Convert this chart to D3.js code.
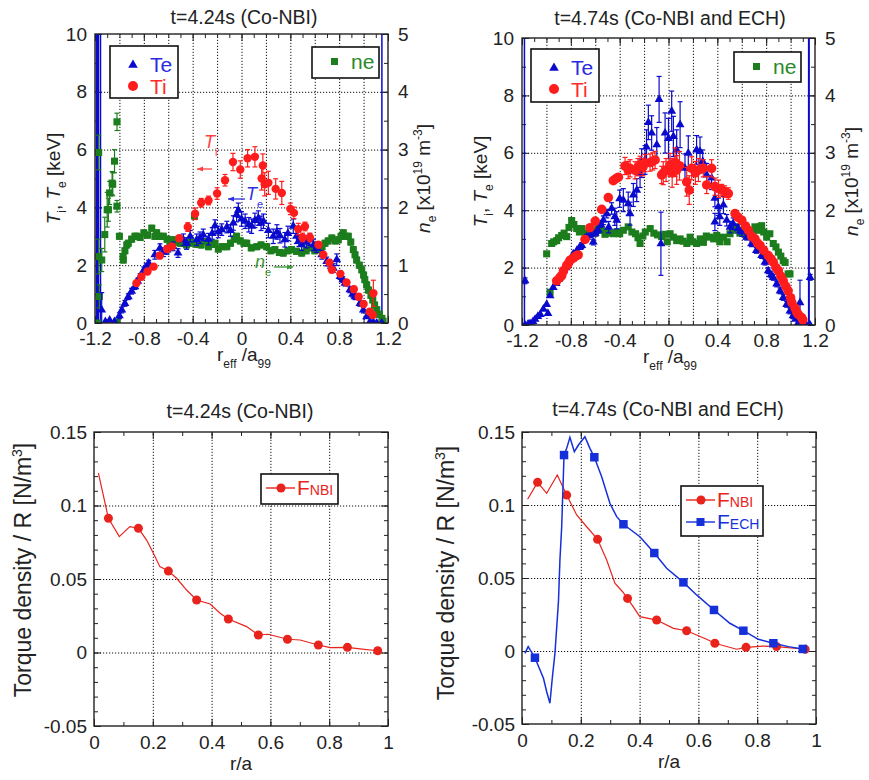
<!DOCTYPE html>
<html>
<head>
<meta charset="utf-8">
<script src="https://cdn.jsdelivr.net/npm/d3@7"></script>
<style>
  body { margin: 0; background: #fff; }
  svg { font-family: "Liberation Sans", Arial, sans-serif; }
  .axis path { display: none; }
  .axis line { stroke: #222; stroke-width: 1; }
  .axis text { font-size: 19px; fill: #222; font-family: "Liberation Sans", Arial, sans-serif; }
  .grid path { display: none; }
  .grid line { stroke: #111; stroke-width: 1; stroke-dasharray: 1.2, 1.8; }
</style>
</head>
<body>
<svg id="chart" width="869" height="780"></svg>
<script>
// ---- tick values
var profXTicks = [-1.2, -0.8, -0.4, 0, 0.4, 0.8, 1.2];
var tempTicks = [0, 2, 4, 6, 8, 10];
var neTicks = [0, 1, 2, 3, 4, 5];
var torqXTicks = [0, 0.2, 0.4, 0.6, 0.8, 1];
var torqYTicks = [-0.05, 0, 0.05, 0.1, 0.15];

// ---- t=4.24s profiles  [r_eff/a99, value, error]
var tlTe = [[-1.145,0.45,0.6],[-1.115,0.05,0.05],[-1.08,0.1,0.05],[-1.04,0.05,0.05],[-1.0,0.25,0.1],[-0.98,0.45,0.1],
  [-0.955,0.68,0.1],[-0.927,0.91,0.1],[-0.9,1.1,0.1],[-0.873,1.26,0.1],[-0.85,1.45,0.1],[-0.83,1.61,0.1],[-0.8,1.84,0.1],
  [-0.78,1.95,0.1],[-0.76,2.07,0.1],[-0.71,2.36,0.15],[-0.668,2.59,0.15],[-0.64,2.45,0.15],[-0.61,2.53,0.15],[-0.56,2.65,0.15],
  [-0.52,2.42,0.15],[-0.476,2.88,0.2],[-0.45,2.75,0.2],[-0.42,3.0,0.2],[-0.367,2.88,0.2],[-0.34,2.95,0.2],[-0.313,3.05,0.2],
  [-0.27,2.9,0.2],[-0.24,3.1,0.2],[-0.217,3.37,0.2],[-0.19,3.15,0.2],[-0.162,3.23,0.2],[-0.12,3.32,0.2],[-0.09,3.2,0.2],
  [-0.067,3.46,0.25],[-0.04,3.75,0.25],[-0.026,3.9,0.25],[0.0,3.6,0.25],[0.03,3.52,0.25],[0.06,3.4,0.25],[0.083,3.35,0.25],
  [0.11,3.55,0.25],[0.138,3.63,0.25],[0.16,3.45,0.25],[0.18,3.52,0.25],[0.22,3.2,0.25],[0.26,3.0,0.25],[0.29,3.15,0.25],
  [0.315,3.02,0.25],[0.355,2.88,0.25],[0.38,3.1,0.25],[0.424,3.35,0.25],[0.45,3.0,0.25],[0.47,2.85,0.2],[0.493,2.71,0.2],
  [0.53,2.8,0.2],[0.56,2.88,0.2],[0.59,2.7,0.2],[0.616,2.59,0.15],[0.657,2.36,0.15],[0.698,2.13,0.15],[0.72,2.05,0.15],
  [0.752,1.9,0.15],[0.78,2.19,0.2],[0.807,1.61,0.1],[0.83,1.5,0.1],[0.848,1.38,0.1],[0.888,1.15,0.1],[0.91,1.0,0.1],
  [0.93,0.91,0.1],[0.97,0.68,0.1],[0.998,0.45,0.1],[1.025,0.22,0.05],[1.053,0.05,0.05],[1.08,0.02,0.05],[1.108,0.0,0.05],[1.15,0.0,0.05]];
var tlTi = [[-0.86,1.38,0.1],[-0.82,1.6,0.1],[-0.77,1.78,0.1],[-0.72,1.95,0.1],[-0.67,2.33,0.1],[-0.61,2.56,0.1],[-0.57,2.65,0.1],
  [-0.51,2.93,0.1],[-0.44,3.32,0.15],[-0.38,3.78,0.2],[-0.33,4.16,0.15],[-0.27,4.24,0.15],[-0.2,4.48,0.2],[-0.135,4.94,0.2],
  [-0.07,5.57,0.3],[-0.01,5.31,0.3],[0.05,5.7,0.3],[0.11,5.75,0.35],[0.165,5.0,0.4],[0.175,5.45,0.4],[0.19,4.8,0.4],
  [0.22,4.85,0.4],[0.28,4.64,0.35],[0.33,4.5,0.4],[0.4,3.95,0.2],[0.43,3.81,0.2],[0.465,3.25,0.2],[0.5,2.96,0.15],
  [0.52,3.34,0.15],[0.56,2.96,0.15],[0.63,2.71,0.1],[0.67,2.36,0.1],[0.72,2.09,0.1],[0.74,1.84,0.1],[0.81,1.7,0.1],
  [0.86,1.4,0.1],[0.92,1.17,0.1],[0.96,0.91,0.1],[1.0,0.66,0.1],[1.05,0.39,0.1],[1.075,0.28,0.1],[1.08,1.03,0.45]];
var tlNe = [[-1.18,0.0,0.02],[-1.165,0.46,0.2],[-1.17,1.15,0.3],[-1.17,2.95,0.3],[-1.145,1.09,0.2],[-1.12,1.53,0.3],
  [-1.1,1.96,0.3],[-1.09,1.96,0.2],[-1.08,2.25,0.2],[-1.06,2.42,0.2],[-1.055,2.4,0.2],[-1.04,2.8,0.2],[-1.02,3.48,0.15],
  [-1.02,2.02,0.1],[-1.02,0.02,0.02],[-1.0,1.5,0.05],[-0.97,1.15,0.05],[-0.968,1.09,0.05],[-0.955,1.25,0.05],[-0.94,1.35,0.05],
  [-0.927,1.38,0.05],[-0.9,1.45,0.05],[-0.873,1.5,0.05],[-0.858,1.5,0.05],[-0.83,1.48,0.05],[-0.8,1.56,0.05],[-0.77,1.52,0.05],
  [-0.735,1.64,0.05],[-0.71,1.5,0.05],[-0.695,1.56,0.05],[-0.67,1.5,0.05],[-0.64,1.5,0.05],[-0.61,1.45,0.05],[-0.586,1.38,0.05],
  [-0.56,1.44,0.05],[-0.53,1.4,0.05],[-0.5,1.38,0.05],[-0.476,1.38,0.05],[-0.45,1.35,0.05],[-0.42,1.4,0.05],[-0.395,1.38,0.05],
  [-0.385,1.85,0.05],[-0.36,1.36,0.05],[-0.33,1.35,0.05],[-0.3,1.41,0.05],[-0.27,1.32,0.05],[-0.24,1.36,0.05],[-0.217,1.38,0.05],
  [-0.19,1.28,0.05],[-0.16,1.32,0.05],[-0.12,1.32,0.05],[-0.09,1.38,0.05],[-0.06,1.45,0.05],[-0.04,1.5,0.05],[-0.01,1.42,0.05],
  [0.02,1.38,0.05],[0.043,1.38,0.05],[0.08,1.3,0.05],[0.125,1.32,0.05],[0.16,1.35,0.05],[0.206,1.32,0.05],[0.24,1.25,0.05],
  [0.274,1.27,0.05],[0.31,1.22,0.05],[0.342,1.21,0.05],[0.38,1.25,0.05],[0.41,1.27,0.05],[0.45,1.24,0.05],[0.493,1.21,0.05],
  [0.53,1.25,0.05],[0.56,1.3,0.05],[0.6,1.25,0.05],[0.63,1.27,0.05],[0.66,1.32,0.05],[0.684,1.38,0.05],[0.71,1.42,0.05],
  [0.74,1.47,0.05],[0.77,1.42,0.05],[0.793,1.44,0.05],[0.815,1.5,0.05],[0.834,1.56,0.05],[0.855,1.5,0.05],[0.875,1.5,0.05],
  [0.895,1.4,0.05],[0.916,1.27,0.05],[0.93,1.18,0.05],[0.943,1.09,0.05],[0.965,1.0,0.05],[0.985,0.92,0.05],[1.0,0.83,0.05],
  [1.01,0.75,0.05],[1.025,0.66,0.05],[1.04,0.57,0.05],[1.06,0.48,0.05],[1.075,0.4,0.05],[1.09,0.31,0.05],[1.108,0.23,0.05],
  [1.13,0.15,0.05],[1.15,0.08,0.05],[1.16,0.03,0.05]];
// vertical Te traces running off the top of the frame  [r_eff/a99, line width]
var tlEdgeLines = [[-1.18, 3.5], [-1.155, 1.5], [1.15, 1.5]];

// ---- t=4.74s profiles
var trTe = [[-1.175,1.54,0.1],[-1.175,0.0,0.05],[-1.15,0.03,0.05],[-1.134,0.05,0.05],[-1.11,0.12,0.05],[-1.093,0.2,0.05],
  [-1.07,0.3,0.05],[-1.05,0.37,0.05],[-1.025,0.55,0.05],[-0.987,0.4,0.05],[-0.998,0.72,0.05],[-0.97,1.02,0.05],[-0.944,1.31,0.05],
  [-0.92,1.45,0.05],[-0.9,1.6,0.05],[-0.88,1.75,0.05],[-0.86,1.89,0.05],[-0.84,2.0,0.05],[-0.82,2.19,0.05],[-0.8,2.3,0.05],
  [-0.78,2.48,0.05],[-0.75,2.6,0.05],[-0.73,2.7,0.05],[-0.71,2.77,0.1],[-0.67,3.06,0.1],[-0.64,3.15,0.1],[-0.616,2.89,0.1],
  [-0.6,3.2,0.1],[-0.575,3.3,0.1],[-0.555,3.5,0.1],[-0.534,3.65,0.15],[-0.506,3.88,0.15],[-0.49,3.41,0.2],[-0.466,4.06,0.2],
  [-0.44,3.77,0.3],[-0.424,3.65,0.3],[-0.4,4.4,0.3],[-0.37,4.35,0.4],[-0.33,4.23,0.4],[-0.315,3.88,0.4],[-0.288,4.53,0.4],
  [-0.26,4.7,0.4],[-0.233,5.29,0.5],[-0.22,5.64,0.5],[-0.192,5.75,0.5],[-0.18,6.2,0.6],[-0.165,7.06,0.6],[-0.138,6.69,0.6],
  [-0.096,6.28,0.6],[-0.077,7.86,0.8],[-0.062,2.83,1.1],[-0.028,6.69,0.7],[0.0,6.5,0.7],[0.026,7.45,0.7],[0.04,6.57,0.7],
  [0.067,6.1,0.7],[0.095,6.98,0.8],[0.135,5.46,0.5],[0.162,5.99,0.6],[0.23,6.1,0.5],[0.258,6.05,0.5],[0.28,5.7,0.4],
  [0.313,5.23,0.4],[0.353,5.12,0.4],[0.38,4.42,0.3],[0.38,3.59,0.3],[0.408,4.12,0.3],[0.42,3.77,0.3],[0.45,4.18,0.3],
  [0.477,3.65,0.2],[0.504,3.41,0.2],[0.53,3.53,0.2],[0.57,3.36,0.15],[0.6,3.24,0.15],[0.64,3.06,0.1],[0.68,2.83,0.1],
  [0.72,2.6,0.1],[0.763,2.42,0.1],[0.79,2.19,0.1],[0.817,1.89,0.1],[0.84,1.75,0.1],[0.858,1.66,0.1],[0.886,1.43,0.1],
  [0.914,1.19,0.1],[0.94,0.96,0.1],[0.968,0.72,0.1],[0.995,0.49,0.1],[1.02,0.32,0.1],[1.04,0.2,0.05],[1.063,0.08,0.05],
  [1.077,0.78,0.78],[1.1,0.0,0.05],[1.13,0.0,0.05],[1.16,0.0,0.05],[1.16,1.66,0.1]];
var trTi = [[-0.916,1.54,0.05],[-0.89,1.65,0.05],[-0.875,1.72,0.05],[-0.86,1.89,0.05],[-0.834,2.07,0.05],[-0.82,2.15,0.05],
  [-0.807,2.25,0.05],[-0.78,2.33,0.05],[-0.76,2.4,0.05],[-0.74,2.44,0.05],[-0.684,2.98,0.05],[-0.643,3.39,0.05],[-0.6,3.62,0.05],
  [-0.547,4.03,0.05],[-0.493,4.44,0.1],[-0.452,5.03,0.1],[-0.43,5.1,0.1],[-0.41,5.15,0.1],[-0.356,5.54,0.3],[-0.33,5.4,0.3],
  [-0.315,5.46,0.3],[-0.274,5.39,0.3],[-0.25,5.5,0.3],[-0.233,5.58,0.3],[-0.21,5.5,0.3],[-0.192,5.64,0.3],[-0.151,5.66,0.3],
  [-0.13,5.7,0.3],[-0.11,5.75,0.3],[-0.056,5.23,0.3],[-0.043,5.29,0.4],[-0.02,5.4,0.4],[0.013,5.58,0.4],[0.03,5.3,0.5],
  [0.053,5.67,0.5],[0.067,5.4,0.5],[0.09,5.55,0.5],[0.149,4.99,0.5],[0.17,4.7,0.5],[0.19,5.46,0.4],[0.22,5.3,0.4],
  [0.245,5.4,0.4],[0.285,5.46,0.3],[0.313,4.88,0.3],[0.353,5.46,0.3],[0.38,4.82,0.3],[0.41,4.75,0.3],[0.436,4.7,0.2],
  [0.46,4.65,0.2],[0.49,4.58,0.2],[0.545,3.88,0.1],[0.57,3.75,0.1],[0.6,3.65,0.1],[0.63,3.45,0.1],[0.654,3.3,0.1],
  [0.68,3.1,0.1],[0.708,3.0,0.1],[0.73,2.85,0.1],[0.75,2.77,0.1],[0.78,2.6,0.1],[0.817,2.42,0.1],[0.84,2.3,0.1],
  [0.858,2.19,0.1],[0.88,2.0,0.1],[0.9,1.89,0.1],[0.92,1.7,0.1],[0.94,1.54,0.1],[0.96,1.35,0.1],[0.98,1.19,0.1],
  [1.0,0.95,0.1],[1.01,0.78,0.1],[1.036,0.59,0.1],[1.05,0.45,0.1],[1.063,0.37,0.1],[1.09,0.26,0.1],[1.1,0.18,0.1]];
var trNe = [[-0.998,1.24,0.03],[-0.97,0.57,0.03],[-0.957,1.42,0.03],[-0.94,1.45,0.03],[-0.916,1.47,0.03],[-0.9,1.52,0.03],
  [-0.875,1.56,0.03],[-0.855,1.6,0.03],[-0.834,1.54,0.03],[-0.815,1.7,0.03],[-0.793,1.82,0.03],[-0.775,1.75,0.03],
  [-0.752,1.68,0.03],[-0.73,1.62,0.03],[-0.71,1.68,0.03],[-0.68,1.6,0.03],[-0.657,1.59,0.03],[-0.63,1.65,0.03],[-0.6,1.6,0.03],
  [-0.575,1.7,0.03],[-0.547,1.65,0.03],[-0.52,1.58,0.03],[-0.5,1.62,0.03],[-0.475,1.6,0.03],[-0.45,1.59,0.03],[-0.425,1.62,0.03],
  [-0.4,1.59,0.03],[-0.37,1.65,0.03],[-0.33,1.71,0.03],[-0.3,1.62,0.03],[-0.27,1.59,0.03],[-0.25,1.52,0.03],[-0.233,1.42,0.03],
  [-0.21,1.55,0.03],[-0.19,1.62,0.03],[-0.15,1.68,0.03],[-0.12,1.6,0.03],[-0.09,1.57,0.03],[-0.056,1.54,0.03],[-0.03,1.58,0.03],
  [-0.01,1.45,0.03],[0.013,1.59,0.03],[0.04,1.53,0.03],[0.067,1.47,0.03],[0.095,1.5,0.03],[0.12,1.46,0.03],[0.15,1.42,0.03],
  [0.177,1.53,0.03],[0.2,1.45,0.03],[0.23,1.42,0.03],[0.26,1.5,0.03],[0.286,1.44,0.03],[0.31,1.55,0.03],[0.34,1.53,0.03],
  [0.37,1.5,0.03],[0.395,1.56,0.03],[0.42,1.45,0.03],[0.45,1.53,0.03],[0.48,1.45,0.03],[0.504,1.59,0.03],[0.53,1.65,0.03],
  [0.558,1.71,0.03],[0.585,1.6,0.03],[0.613,1.65,0.03],[0.64,1.55,0.03],[0.667,1.59,0.03],[0.69,1.62,0.03],[0.708,1.71,0.03],
  [0.73,1.65,0.03],[0.75,1.71,0.03],[0.763,1.73,0.03],[0.78,1.62,0.03],[0.804,1.53,0.03],[0.83,1.59,0.03],[0.858,1.42,0.03],
  [0.88,1.36,0.03],[0.9,1.27,0.03],[0.92,1.2,0.03],[0.94,1.12,0.03],[0.955,1.09,0.03],[0.98,0.89,0.03],[0.995,0.89,0.03]];
var trEdgeLines = [[-1.18, 1.5], [1.15, 2]];

// ---- torque density / R  [r/a, N/m^3]
var blNbiLine = [[0.015,0.122],[0.049,0.0913],[0.086,0.0788],[0.122,0.0856],[0.151,0.0845],[0.179,0.0765],[0.202,0.0675],
  [0.224,0.0584],[0.253,0.0554],[0.281,0.0505],[0.315,0.0425],[0.349,0.0357],[0.395,0.033],[0.429,0.0267],[0.457,0.0228],
  [0.519,0.0176],[0.559,0.0119],[0.593,0.0124],[0.658,0.009],[0.701,0.0085],[0.763,0.0051],[0.803,0.0033],[0.862,0.0035],
  [0.905,0.0025],[0.965,0.0012]];
var blNbiMarks = [[0.049,0.0913],[0.151,0.0845],[0.253,0.0554],[0.349,0.0357],[0.457,0.0228],[0.559,0.0119],[0.658,0.009],
  [0.763,0.0051],[0.862,0.0035],[0.965,0.0012]];
var brNbiLine = [[0.019,0.1039],[0.053,0.1155],[0.084,0.108],[0.12,0.1205],[0.152,0.1068],[0.186,0.0932],[0.22,0.0851],
  [0.257,0.0765],[0.288,0.0623],[0.316,0.0464],[0.342,0.0406],[0.359,0.036],[0.401,0.0235],[0.458,0.0212],[0.515,0.0155],
  [0.56,0.0139],[0.628,0.008],[0.656,0.0053],[0.73,0.0012],[0.762,0.0025],[0.82,0.0034],[0.866,0.003],[0.963,0.0012]];
var brNbiMarks = [[0.053,0.1155],[0.152,0.1068],[0.257,0.0765],[0.359,0.036],[0.458,0.0212],[0.56,0.0139],[0.656,0.0053],
  [0.762,0.0025],[0.866,0.003],[0.963,0.0012]];
var brEchLine = [[0.01,-0.0016],[0.021,0.003],[0.044,-0.0046],[0.073,-0.0187],[0.084,-0.0279],[0.095,-0.0358],[0.103,-0.0187],
  [0.112,-0.0016],[0.124,0.0338],[0.129,0.0623],[0.135,0.0851],[0.143,0.1342],[0.152,0.1388],[0.163,0.1463],[0.178,0.1365],
  [0.192,0.1411],[0.214,0.1468],[0.231,0.1388],[0.246,0.1327],[0.271,0.1194],[0.299,0.1012],[0.322,0.092],[0.345,0.0868],
  [0.401,0.0783],[0.45,0.0671],[0.492,0.0567],[0.549,0.047],[0.594,0.0384],[0.653,0.0281],[0.707,0.019],[0.753,0.0139],
  [0.804,0.008],[0.855,0.0053],[0.906,0.003],[0.955,0.0014],[0.97,0.001]];
var brEchMarks = [[0.044,-0.0046],[0.143,0.1342],[0.246,0.1327],[0.345,0.0868],[0.45,0.0671],[0.549,0.047],[0.653,0.0281],
  [0.753,0.0139],[0.855,0.0053],[0.955,0.0014]];

var teColor = "#0a0acd", tiColor = "#ff1c1c", neColor = "#1c7d1c";
var nbiColor = "#e8231c", echColor = "#1530d8";

var svg = d3.select("#chart");

function addTicks(g, axisFn, scale, vals, size, pos, fmt, pad, horiz) {
  var a = axisFn(scale).tickValues(vals).tickSize(size).tickPadding(pad || 8)
    .tickFormat(fmt ? fmt : function() { return ""; });
  g.append("g").attr("class", "axis")
    .attr("transform", horiz ? "translate(0," + pos + ")" : "translate(" + pos + ",0)")
    .call(a);
}

function frameAxes(g, x, y, box, o) {
  var w = box.right - box.left, h = box.bottom - box.top;
  // grid
  g.append("g").attr("class", "grid").attr("transform", "translate(0," + box.bottom + ")")
    .call(d3.axisBottom(x).tickValues(o.xGrid).tickSize(-h).tickFormat(""));
  g.append("g").attr("class", "grid").attr("transform", "translate(" + box.left + ",0)")
    .call(d3.axisLeft(y).tickValues(o.yGrid).tickSize(-w).tickFormat(""));
  var fmt = function(d) { return String(d); };
  addTicks(g, d3.axisBottom, x, o.xMinor, -4, box.bottom, null, 8, true);
  addTicks(g, d3.axisBottom, x, o.xMajor, -7, box.bottom, fmt, o.xPad, true);
  addTicks(g, d3.axisTop, x, o.xMinor, -4, box.top, null, 8, true);
  addTicks(g, d3.axisTop, x, o.xMajor, -7, box.top, null, 8, true);
  addTicks(g, d3.axisLeft, y, o.yMinor, -4, box.left, null, 8, false);
  addTicks(g, d3.axisLeft, y, o.yMajor, -7, box.left, fmt, o.yPad, false);
  addTicks(g, d3.axisRight, y, o.yMinor, -4, box.right, null, 8, false);
  addTicks(g, d3.axisRight, o.y2 || y, o.y2Major || o.yMajor, -7, box.right, o.y2 ? fmt : null, 10, false);
}

function drawFrame(g, box) {
  g.append("rect").attr("x", box.left).attr("y", box.top)
    .attr("width", box.right - box.left).attr("height", box.bottom - box.top)
    .attr("fill", "none").attr("stroke", "#222").attr("stroke-width", 1.4);
}

function errorBars(g, data, x, y, color, cap) {
  var eb = g.append("g").attr("stroke", color).attr("stroke-width", 1.2);
  data.forEach(function(d) {
    if (y(d[1] - d[2]) - y(d[1] + d[2]) < 3) return;
    eb.append("line").attr("x1", x(d[0])).attr("x2", x(d[0]))
      .attr("y1", y(d[1] - d[2])).attr("y2", y(d[1] + d[2]));
    [d[1] - d[2], d[1] + d[2]].forEach(function(v) {
      eb.append("line").attr("x1", x(d[0]) - cap).attr("x2", x(d[0]) + cap)
        .attr("y1", y(v)).attr("y2", y(v));
    });
  });
}

function symbols(g, data, x, y, type, size, color) {
  g.append("g").selectAll("path").data(data).enter().append("path")
    .attr("d", d3.symbol().type(type).size(size))
    .attr("transform", function(d) { return "translate(" + x(d[0]) + "," + y(d[1]) + ")"; })
    .attr("fill", color);
}

function profilePanel(o) {
  var box = o.box;
  var x = d3.scaleLinear().domain([-1.2, 1.2]).range([box.left, box.right]);
  var y = d3.scaleLinear().domain([0, 10]).range([box.bottom, box.top]);
  var y2 = d3.scaleLinear().domain([0, 5]).range([box.bottom, box.top]);
  var g = svg.append("g");

  svg.append("clipPath").attr("id", "clip" + o.id).append("rect")
    .attr("x", box.left).attr("y", box.top)
    .attr("width", box.right - box.left).attr("height", box.bottom - box.top);

  frameAxes(g, x, y, box, {
    xGrid: [-1, -0.8, -0.6, -0.4, -0.2, 0, 0.2, 0.4, 0.6, 0.8, 1],
    yGrid: [2, 4, 6, 8],
    xMinor: d3.range(-11, 12).map(function(i) { return i / 10; }),
    xMajor: profXTicks, xPad: 9,
    yMinor: d3.range(1, 10), yMajor: tempTicks, yPad: 8,
    y2: y2, y2Major: neTicks
  });

  var data = g.append("g").attr("clip-path", "url(#clip" + o.id + ")");
  // Te traces at the plasma edge
  data.append("g").selectAll("line").data(o.edge).enter().append("line")
    .attr("x1", function(d) { return x(d[0]); }).attr("x2", function(d) { return x(d[0]); })
    .attr("y1", y(0)).attr("y2", y(10))
    .attr("stroke", teColor).attr("stroke-width", function(d) { return d[1]; });

  errorBars(data, o.ne, x, y2, neColor, 2.5);
  symbols(data, o.ne, x, y2, d3.symbolSquare, 50, neColor);
  errorBars(data, o.te, x, y, teColor, 2.5);
  symbols(data, o.te, x, y, d3.symbolTriangle, 34, teColor);
  errorBars(data, o.ti, x, y, tiColor, 2.5);
  data.append("g").selectAll("circle").data(o.ti).enter().append("circle")
    .attr("cx", function(d) { return x(d[0]); }).attr("cy", function(d) { return y(d[1]); })
    .attr("r", o.tiR).attr("fill", tiColor);

  // legends
  var L = o.leg1;
  g.append("rect").attr("x", L.x).attr("y", L.y).attr("width", L.w).attr("height", L.h)
    .attr("fill", "#fff").attr("stroke", "#111").attr("stroke-width", 1.6);
  g.append("path").attr("d", d3.symbol().type(d3.symbolTriangle).size(40))
    .attr("transform", "translate(" + (L.x + 23) + "," + (L.y + 19) + ")").attr("fill", teColor);
  g.append("circle").attr("cx", L.x + 23).attr("cy", L.y + 40).attr("r", 5).attr("fill", tiColor);
  g.append("text").attr("x", L.x + 40).attr("y", L.y + 26).attr("fill", "#2a2ae0")
    .style("font-size", "21px").text("Te");
  g.append("text").attr("x", L.x + 40).attr("y", L.y + 48).attr("fill", "#ff2a2a")
    .style("font-size", "21px").text("Ti");
  var N = o.leg2;
  g.append("rect").attr("x", N.x).attr("y", N.y).attr("width", N.w).attr("height", N.h)
    .attr("fill", "#fff").attr("stroke", "#111").attr("stroke-width", 1.6);
  g.append("rect").attr("x", N.x + 19).attr("y", N.y + 11).attr("width", 7).attr("height", 7).attr("fill", neColor);
  g.append("text").attr("x", N.x + 39).attr("y", N.y + 22).attr("fill", "#2a8a2a")
    .style("font-size", "21px").text("ne");

  drawFrame(g, box);

  // title
  g.append("text").attr("x", o.titleX).attr("y", o.titleY).attr("text-anchor", "middle")
    .style("font-size", "19.5px").attr("fill", "#222").text(o.title);

  // x label r_eff / a_99
  var xl = g.append("text").attr("x", o.titleX).attr("y", box.bottom + 38).attr("text-anchor", "middle")
    .style("font-size", "19px").attr("fill", "#222");
  xl.append("tspan").text("r");
  xl.append("tspan").attr("dy", 7).style("font-size", "12px").text("eff");
  xl.append("tspan").attr("dy", -7).text(" /a");
  xl.append("tspan").attr("dy", 7).style("font-size", "12px").text("99");

  // left y label
  var yl = g.append("text").attr("transform", "translate(" + o.yLabelX + "," + ((box.top + box.bottom) / 2 + 0) + ") rotate(-90)")
    .attr("text-anchor", "middle").style("font-size", "19px").attr("fill", "#222");
  yl.append("tspan").style("font-style", "italic").text("T");
  yl.append("tspan").attr("dy", 6).style("font-size", "12px").text("i");
  yl.append("tspan").attr("dy", -6).text(", ");
  yl.append("tspan").style("font-style", "italic").text("T");
  yl.append("tspan").attr("dy", 6).style("font-size", "12px").text("e");
  yl.append("tspan").attr("dy", -6).text(" [keV]");

  // right y label
  var rl = g.append("text").attr("transform", "translate(" + o.y2LabelX + "," + ((box.top + box.bottom) / 2) + ") rotate(-90)")
    .attr("text-anchor", "middle").style("font-size", "19px").attr("fill", "#222");
  rl.append("tspan").style("font-style", "italic").text("n");
  rl.append("tspan").attr("dy", 6).style("font-size", "12px").text("e");
  rl.append("tspan").attr("dy", -6).text(" [x10");
  rl.append("tspan").attr("dy", -8).style("font-size", "12px").text("19");
  rl.append("tspan").attr("dy", 8).text(" m");
  rl.append("tspan").attr("dy", -8).style("font-size", "12px").text("-3");
  rl.append("tspan").attr("dy", 8).text("]");

  return { g: g, x: x, y: y, y2: y2 };
}

function arrow(g, x1, yv, x2, color) {
  var dir = x2 > x1 ? 1 : -1;
  g.append("line").attr("x1", x1).attr("x2", x2).attr("y1", yv).attr("y2", yv)
    .attr("stroke", color).attr("stroke-width", 1.3);
  g.append("path").attr("d", "M" + x2 + "," + yv + "l" + (-dir * 6) + ",-2.5l0,5z").attr("fill", color);
}

function annot(g, xp, yp, main, sub, color) {
  var t = g.append("text").attr("x", xp).attr("y", yp).attr("fill", color).style("font-size", "18px");
  t.append("tspan").style("font-style", "italic").text(main);
  t.append("tspan").attr("dy", 8).style("font-size", "11px").text(sub);
}

function torquePanel(o) {
  var box = o.box;
  var x = d3.scaleLinear().domain([0, 1]).range([box.left, box.right]);
  var y = d3.scaleLinear().domain([-0.05, 0.15]).range([box.bottom, box.top]);
  var g = svg.append("g");

  frameAxes(g, x, y, box, {
    xGrid: [0.2, 0.4, 0.6, 0.8], yGrid: [0, 0.05, 0.1],
    xMinor: d3.range(0, 11).map(function(i) { return i / 10; }),
    xMajor: torqXTicks, xPad: 10,
    yMinor: d3.range(-5, 16).map(function(i) { return i / 100; }),
    yMajor: torqYTicks, yPad: 7
  });

  var line = d3.line().x(function(d) { return x(d[0]); }).y(function(d) { return y(d[1]); });
  o.series.forEach(function(s) {
    g.append("path").datum(s.line).attr("d", line).attr("fill", "none")
      .attr("stroke", s.color).attr("stroke-width", s.width);
    if (s.square) {
      symbols(g, s.marks, x, y, d3.symbolSquare, 72, s.color);
    } else {
      g.append("g").selectAll("circle").data(s.marks).enter().append("circle")
        .attr("cx", function(d) { return x(d[0]); }).attr("cy", function(d) { return y(d[1]); })
        .attr("r", 4.5).attr("fill", s.color);
    }
  });

  // legend
  var L = o.legend;
  g.append("rect").attr("x", L.x).attr("y", L.y).attr("width", L.w).attr("height", L.h)
    .attr("fill", "#fff").attr("stroke", "#111").attr("stroke-width", 1.6);
  o.series.forEach(function(s, i) {
    var cy = L.y + 14 + i * 22;
    g.append("line").attr("x1", L.x + 5).attr("x2", L.x + 34).attr("y1", cy).attr("y2", cy)
      .attr("stroke", s.color).attr("stroke-width", 1.4);
    if (s.square) {
      g.append("rect").attr("x", L.x + 15.5).attr("y", cy - 4).attr("width", 8).attr("height", 8).attr("fill", s.color);
    } else {
      g.append("circle").attr("cx", L.x + 20).attr("cy", cy).attr("r", 4.5).attr("fill", s.color);
    }
    var t = g.append("text").attr("x", L.x + 36).attr("y", cy + 7).attr("fill", s.color).style("font-size", "21px");
    t.append("tspan").text("F");
    t.append("tspan").style("font-size", "14px").text(s.name);
  });

  drawFrame(g, box);

  g.append("text").attr("x", o.titleX).attr("y", o.titleY).attr("text-anchor", "middle")
    .style("font-size", "19.5px").attr("fill", "#222").text(o.title);
  g.append("text").attr("x", (box.left + box.right) / 2).attr("y", box.bottom + 44).attr("text-anchor", "middle")
    .style("font-size", "19px").attr("fill", "#222").text("r/a");
  var yl = g.append("text").attr("transform", "translate(" + o.yLabelX + "," + o.yLabelY + ") rotate(-90)")
    .attr("text-anchor", "middle").style("font-size", "23px").attr("fill", "#222");
  yl.append("tspan").text("Torque density / R [N/m");
  yl.append("tspan").attr("dy", -9).style("font-size", "14px").text("3");
  yl.append("tspan").attr("dy", 9).text("]");
}

// ---- panels
var tl = profilePanel({
  id: "tl", box: { left: 95, right: 388, top: 34, bottom: 323 },
  te: tlTe, ti: tlTi, ne: tlNe, edge: tlEdgeLines, tiR: 4.2,
  leg1: { x: 110, y: 46, w: 68, h: 52 }, leg2: { x: 312, y: 47, w: 67, h: 31 },
  title: "t=4.24s (Co-NBI)", titleX: 244, titleY: 24, yLabelX: 60, y2LabelX: 430
});
annot(tl.g, 204, 148, "T", "i", "#ff4040");
arrow(tl.g, 212, 169, 197, "#ff4040");
annot(tl.g, 246, 200, "T", "e", "#3030e0");
arrow(tl.g, 245, 199, 228, "#3030e0");
annot(tl.g, 255, 268, "n", "e", "#3a9a3a");
arrow(tl.g, 274, 267, 293, "#3a9a3a");

profilePanel({
  id: "tr", box: { left: 522, right: 815, top: 38, bottom: 325 },
  te: trTe, ti: trTi, ne: trNe, edge: trEdgeLines, tiR: 4.8,
  leg1: { x: 531, y: 49, w: 68, h: 53 }, leg2: { x: 734, y: 52, w: 67, h: 30 },
  title: "t=4.74s (Co-NBI and ECH)", titleX: 670, titleY: 25, yLabelX: 487, y2LabelX: 858
});

torquePanel({
  box: { left: 94, right: 388, top: 432, bottom: 726 },
  series: [{ name: "NBI", line: blNbiLine, marks: blNbiMarks, color: nbiColor, width: 1.2 }],
  legend: { x: 261, y: 474, w: 77, h: 30 },
  title: "t=4.24s (Co-NBI)", titleX: 240, titleY: 418, yLabelX: 31, yLabelY: 570
});

torquePanel({
  box: { left: 522, right: 816, top: 432, bottom: 724 },
  series: [
    { name: "NBI", line: brNbiLine, marks: brNbiMarks, color: nbiColor, width: 1.2 },
    { name: "ECH", line: brEchLine, marks: brEchMarks, color: echColor, width: 1.5, square: true }
  ],
  legend: { x: 681, y: 486, w: 82, h: 50 },
  title: "t=4.74s (Co-NBI and ECH)", titleX: 668, titleY: 416, yLabelX: 454, yLabelY: 573
});
</script>
</body>
</html>
